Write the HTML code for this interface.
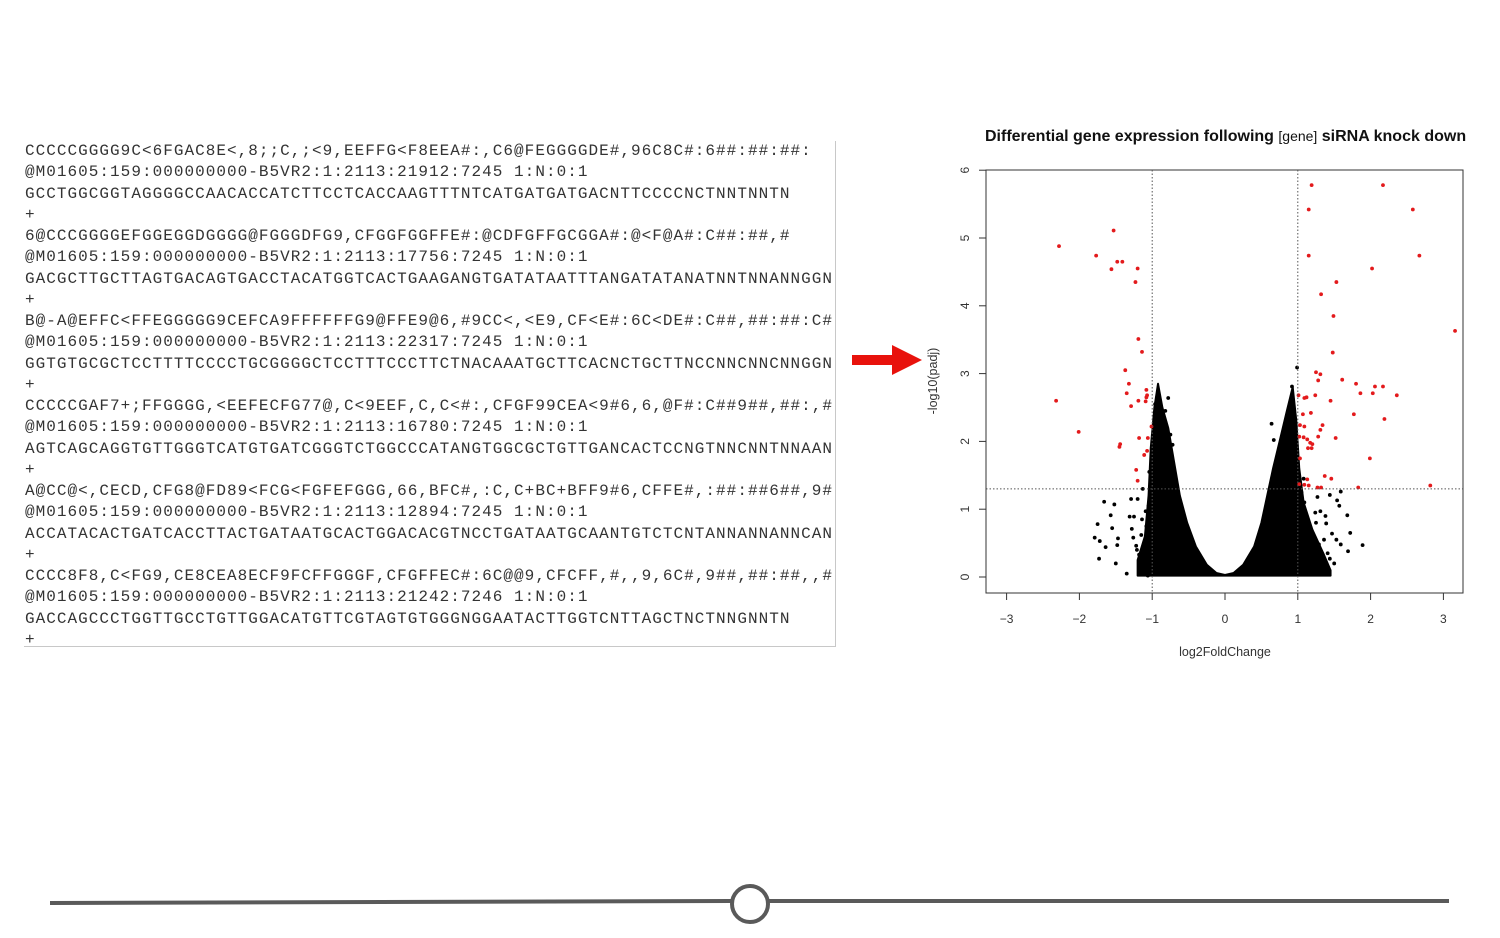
<!DOCTYPE html>
<html><head><meta charset="utf-8"><style>
body{margin:0;background:#fff;width:1500px;height:938px;overflow:hidden;position:relative;font-family:"Liberation Sans",sans-serif}
#seq{position:absolute;left:24px;top:141px;width:811px;height:505px;border-right:1px solid #c8c8c8;border-bottom:1px solid #c8c8c8;overflow:hidden}
#seq pre{margin:0;padding:0 0 0 1px;font-family:"Liberation Mono","Courier New",monospace;font-size:16px;letter-spacing:1.03px;line-height:21.25px;color:#333;}
</style></head><body>
<div id="seq"><pre>CCCCCGGGG9C&lt;6FGAC8E&lt;,8;;C,;&lt;9,EEFFG&lt;F8EEA#:,C6@FEGGGGDE#,96C8C#:6##:##:##:
@M01605:159:000000000-B5VR2:1:2113:21912:7245 1:N:0:1
GCCTGGCGGTAGGGGCCAACACCATCTTCCTCACCAAGTTTNTCATGATGATGACNTTCCCCNCTNNTNNTN
+
6@CCCGGGGEFGGEGGDGGGG@FGGGDFG9,CFGGFGGFFE#:@CDFGFFGCGGA#:@&lt;F@A#:C##:##,#
@M01605:159:000000000-B5VR2:1:2113:17756:7245 1:N:0:1
GACGCTTGCTTAGTGACAGTGACCTACATGGTCACTGAAGANGTGATATAATTTANGATATANATNNTNNANNGGN
+
B@-A@EFFC&lt;FFEGGGGG9CEFCA9FFFFFFG9@FFE9@6,#9CC&lt;,&lt;E9,CF&lt;E#:6C&lt;DE#:C##,##:##:C#
@M01605:159:000000000-B5VR2:1:2113:22317:7245 1:N:0:1
GGTGTGCGCTCCTTTTCCCCTGCGGGGCTCCTTTCCCTTCTNACAAATGCTTCACNCTGCTTNCCNNCNNCNNGGN
+
CCCCCGAF7+;FFGGGG,&lt;EEFECFG77@,C&lt;9EEF,C,C&lt;#:,CFGF99CEA&lt;9#6,6,@F#:C##9##,##:,#
@M01605:159:000000000-B5VR2:1:2113:16780:7245 1:N:0:1
AGTCAGCAGGTGTTGGGTCATGTGATCGGGTCTGGCCCATANGTGGCGCTGTTGANCACTCCNGTNNCNNTNNAAN
+
A@CC@&lt;,CECD,CFG8@FD89&lt;FCG&lt;FGFEFGGG,66,BFC#,:C,C+BC+BFF9#6,CFFE#,:##:##6##,9#
@M01605:159:000000000-B5VR2:1:2113:12894:7245 1:N:0:1
ACCATACACTGATCACCTTACTGATAATGCACTGGACACGTNCCTGATAATGCAANTGTCTCNTANNANNANNCAN
+
CCCC8F8,C&lt;FG9,CE8CEA8ECF9FCFFGGGF,CFGFFEC#:6C@@9,CFCFF,#,,9,6C#,9##,##:##,,#
@M01605:159:000000000-B5VR2:1:2113:21242:7246 1:N:0:1
GACCAGCCCTGGTTGCCTGTTGGACATGTTCGTAGTGTGGGNGGAATACTTGGTCNTTAGCTNCTNNGNNTN
+</pre></div>

<svg width="1500" height="938" style="position:absolute;left:0;top:0" xmlns="http://www.w3.org/2000/svg">
  <g>
    <rect x="852" y="355" width="42" height="10" fill="#e8120c"/>
    <polygon points="892,345 922,360 892,375" fill="#e8120c"/>
  </g>
  <g>
    <line x1="50" y1="903" x2="731" y2="901" stroke="#5a5a5a" stroke-width="4"/>
    <line x1="769" y1="901" x2="1449" y2="901" stroke="#5a5a5a" stroke-width="4"/>
    <circle cx="750" cy="904" r="18" fill="#fff" stroke="#5a5a5a" stroke-width="4"/>
  </g>
  <g id="chart"></g>
</svg>

<script>
const xTicks = [-3,-2,-1,0,1,2,3];
const yTicks = [0,1,2,3,4,5,6];
const sigX = [-2.28,-1.77,-1.53,-1.48,-1.41,-1.56,-1.20,-1.23,-1.19,-1.14,-1.37,-1.32,-1.35,-1.29,-1.19,-1.08,-1.07,-1.09,-1.08,-2.32,-2.01,-1.45,-1.44,-1.18,-1.06,-1.01,-1.07,-1.11,-1.22,-1.20,
 1.19,2.17,1.15,2.58,1.15,2.67,2.02,1.53,1.32,1.49,3.16,1.48,1.25,1.31,1.28,1.61,1.80,2.06,2.17,1.86,2.03,2.36,1.09,1.12,1.24,1.45,1.01,1.07,1.18,1.77,2.19,1.03,1.09,1.34,1.31,1.02,1.08,1.13,1.28,1.52,1.17,1.20,1.14,1.19,1.03,1.99,1.37,1.46,1.13,1.02,1.09,1.15,1.27,1.32,1.83,2.82];
const sigY = [4.88,4.74,5.11,4.65,4.65,4.54,4.55,4.35,3.51,3.32,3.05,2.85,2.71,2.52,2.60,2.76,2.68,2.59,2.65,2.60,2.14,1.92,1.96,2.05,2.05,2.22,1.86,1.80,1.58,1.42,
 5.78,5.78,5.42,5.42,4.74,4.74,4.55,4.35,4.17,3.85,3.63,3.31,3.02,2.99,2.90,2.91,2.85,2.81,2.81,2.71,2.71,2.68,2.64,2.65,2.68,2.60,2.68,2.40,2.42,2.40,2.33,2.24,2.22,2.24,2.17,2.07,2.06,2.03,2.07,2.05,1.98,1.96,1.90,1.90,1.75,1.75,1.49,1.45,1.44,1.37,1.36,1.35,1.32,1.32,1.32,1.35];
const nsX = [-1.66,-1.52,-1.57,-1.75,-1.55,-1.79,-1.47,-1.72,-1.64,-1.48,-1.73,-1.50,-1.35,-1.29,-1.20,-1.31,-1.25,-1.09,-1.28,-1.22,-1.18,-1.26,-1.06,-0.93,-0.78,
 -1.12,-1.08,-1.15,-1.05,-1.10,-1.18,-1.13,-1.04,-0.99,-0.96,-0.82,-0.85,-0.75,-0.72,-1.0,-1.14,-1.21,-1.17,
 1.89,1.72,1.68,1.57,1.59,1.54,1.44,1.39,1.69,1.44,1.29,1.59,1.19,1.31,0.99,0.64,0.67,0.92,0.84,1.12,1.09,1.02,1.24,1.17,1.29,1.47,
 1.36,1.41,1.25,1.22,1.12,1.05,1.33,1.50,1.38,1.27,1.08,0.95,0.88,0.78,0.72,0.98,1.15,1.42,1.53];
const nsY = [1.11,1.07,0.91,0.78,0.72,0.58,0.57,0.53,0.44,0.47,0.27,0.20,0.05,1.15,1.15,0.89,0.89,0.97,0.71,0.46,0.33,0.58,0.02,2.64,2.64,
 0.45,0.75,0.62,1.05,0.30,0.15,1.30,1.55,2.00,2.55,2.45,2.30,2.10,1.95,1.75,0.85,0.40,0.10,
 0.47,0.65,0.91,1.05,1.26,1.13,1.21,0.79,0.38,0.27,0.17,0.48,0.58,0.97,3.09,2.26,2.02,2.81,2.24,0.07,1.10,0.95,0.95,0.74,0.48,0.64,
 0.55,0.35,0.80,0.40,0.30,1.25,0.15,0.20,0.90,1.18,1.45,1.70,1.90,2.05,1.55,1.00,0.20,0.10,0.55];
// dense cloud envelope (log2FC, -log10 padj)
const cloudX = [-1.2,-1.2,-1.1,-1.05,-1.02,-0.97,-0.92,-0.86,-0.78,-0.7,-0.62,-0.52,-0.4,-0.25,-0.12,0,0.12,0.25,0.4,0.5,0.58,0.66,0.75,0.85,0.93,0.98,1.02,1.08,1.2,1.35,1.45,1.45];
const cloudY = [0.02,0.25,0.6,1.2,1.9,2.5,2.85,2.5,2.2,1.7,1.2,0.8,0.45,0.18,0.06,0.03,0.06,0.18,0.45,0.8,1.2,1.6,2.0,2.45,2.8,2.3,1.6,1.1,0.7,0.35,0.1,0.02];
const thresholdY = 1.3, thresholdX = [-1,1];

const NS='http://www.w3.org/2000/svg';
const g=document.getElementById('chart');
const X=v=>1225+v*72.8, Y=v=>577-v*67.8;
const L=986,R=1463,T=170,B=593;
function mk(t,a,p){const e=document.createElementNS(NS,t);for(const k in a)e.setAttribute(k,a[k]);(p||g).appendChild(e);return e;}

const title=mk('text',{x:985,y:141,'font-size':16,'font-weight':'bold',fill:'#111','font-family':'Liberation Sans, sans-serif'});


title.innerHTML='Differential gene expression following <tspan font-weight="normal" font-size="14">[gene]</tspan> siRNA knock down';

const box=mk('rect',{x:L,y:T,width:R-L,height:B-T,fill:'none',stroke:'#333','stroke-width':1});



const cl=mk('polygon',{points:cloudX.map((v,i)=>X(v)+','+Y(cloudY[i])).join(' '),fill:'#000','stroke':'#000','stroke-width':2,'stroke-linejoin':'round'});



nsX.forEach((v,i)=>{
  const c=mk('circle',{cx:X(v),cy:Y(nsY[i]),r:1.9,fill:'#000'});
  
  
});
sigX.forEach((v,i)=>{
  const c=mk('circle',{cx:X(v),cy:Y(sigY[i]),r:1.9,fill:'#e31a1c'});
  
  
});

const hl=mk('line',{x1:L,x2:R,y1:Y(thresholdY),y2:Y(thresholdY),stroke:'#555','stroke-dasharray':'1.5,2','stroke-width':1});


thresholdX.forEach(v=>{
  const l=mk('line',{x1:X(v),x2:X(v),y1:T,y2:B,stroke:'#555','stroke-dasharray':'1.5,2','stroke-width':1});
  
  
});

mk('line',{x1:X(xTicks[0]),x2:X(xTicks[xTicks.length-1]),y1:B,y2:B,stroke:'#333'});
xTicks.forEach(v=>{
  mk('line',{x1:X(v),x2:X(v),y1:B,y2:B+7,stroke:'#333'});
  const t=mk('text',{x:X(v),y:623,'font-size':12,'text-anchor':'middle',fill:'#333'});
  
  
  t.textContent=v<0?'\u2212'+(-v):v;
});
mk('line',{x1:L,x2:L,y1:Y(yTicks[0]),y2:Y(yTicks[yTicks.length-1]),stroke:'#333'});
yTicks.forEach(v=>{
  mk('line',{x1:L-7,x2:L,y1:Y(v),y2:Y(v),stroke:'#333'});
  const t=mk('text',{x:0,y:0,'font-size':12,'text-anchor':'middle',fill:'#333',transform:`translate(969,${Y(v)}) rotate(-90)`});
  
  
  t.textContent=v;
});
const xl=mk('text',{x:1225,y:656,'font-size':12.5,'text-anchor':'middle',fill:'#333'});


xl.textContent='log2FoldChange';
const yl=mk('text',{x:0,y:0,'font-size':12.5,'text-anchor':'middle',fill:'#333',transform:'translate(937,381) rotate(-90)'});


yl.textContent='-log10(padj)';
</script>
</body></html>
